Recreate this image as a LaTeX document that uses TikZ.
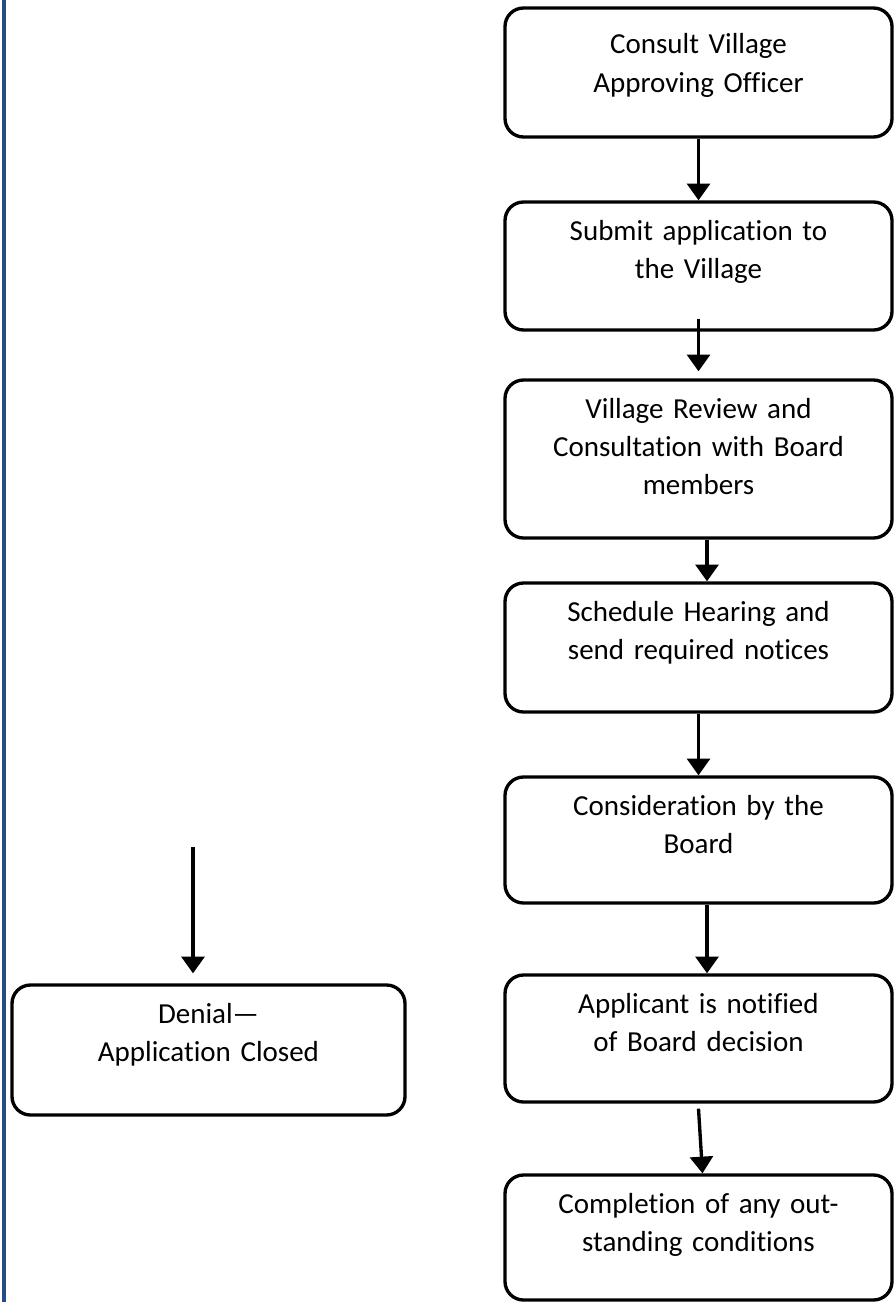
\documentclass[tikz,border=0pt]{standalone}
\usepackage{fontspec}
\setmainfont{Carlito}[Ligatures={TeX,NoCommon}]
\usetikzlibrary{positioning,arrows.meta}
\definecolor{sidebar}{RGB}{37,76,133}
\begin{document}
\begin{tikzpicture}[-{Triangle[width=13pt,length=9.5pt]}, node distance=3.87cm, on grid,
line width=1.9pt,
stepbox/.style={rectangle, rounded corners=0.37cm, draw, text width=7.34cm, align=center,
  inner xsep=0.2cm, inner ysep=0.34cm, text height=0.42cm, text depth=1.48cm,
  font=\fontsize{16.5}{21.8}\selectfont}
]
\useasboundingbox (0,0) rectangle (17.86,-26.04);
\draw[-, sidebar, line width=0.08cm] (0.08,0) -- (0.08,-26.04);
\node[stepbox, text height=0.58cm, text depth=1.32cm] (consult) at (13.97,-1.45) {Consult Village\\Approving Officer};
\node[stepbox, text depth=1.46cm] (submit) [below = 3.87cm of consult] {Submit application to\\the Village};
\node[stepbox, text depth=2.06cm] (review) [below = 3.86cm of submit] {Village Review and\\Consultation with Board\\members};
\node[stepbox] (hearing) [below = 3.77cm of review] {Schedule Hearing and\\send required notices};
\node[stepbox, text depth=1.42cm] (board) [below = 3.85cm of hearing] {Consideration by the\\Board};
\node[stepbox, text depth=1.44cm] (notified) [below = 3.97cm of board] {Applicant is notified\\of Board decision};
\node[stepbox, text depth=1.4cm] (complete) [below = 3.98cm of notified] {Completion of any out-\\standing conditions};
\node[stepbox, text width=7.46cm, text depth=1.5cm] (denial) at (4.17,-21.0) {Denial---\\Application Closed};
\coordinate (deny) at (3.86,-16.94);
\draw (consult) -- (submit);
\draw ([yshift=0.26cm]submit.south) -- ([yshift=0.14cm]review.north);
\draw ([xshift=0.17cm]review.south) -- ([xshift=0.17cm]hearing.north);
\draw (hearing) -- (board);
\draw ([xshift=0.17cm]board.south) -- ([xshift=0.17cm]notified.north);
\draw ([yshift=-0.1cm]notified.south) -- ([xshift=0.08cm]complete.north);
\draw (deny) -- ([xshift=-0.31cm, yshift=0.2cm]denial.north);
\end{tikzpicture}
\end{document}
